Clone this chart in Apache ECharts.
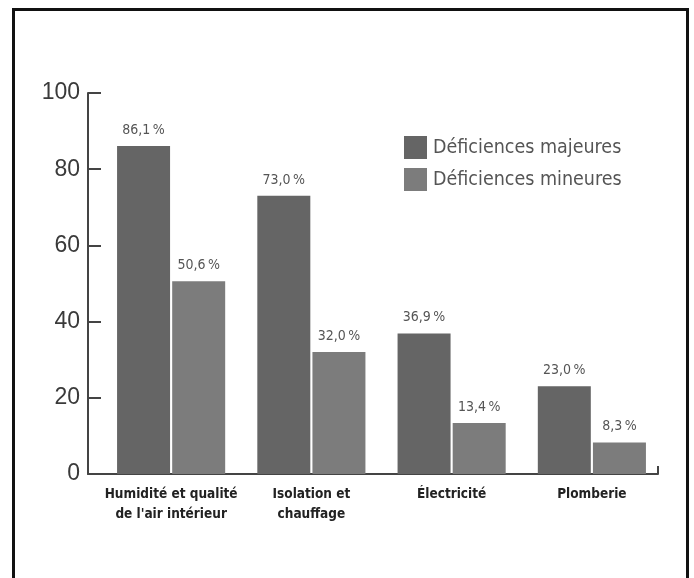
<!DOCTYPE html>
<html style="height: 100%">
<head>
    <meta charset="utf-8">
</head>
<body style="height: 100%; margin: 0; background: #fff">
<div id="container" style="width: 694px; height: 578px; position: absolute; left: 0; top: 0"></div>
<div style="position: absolute; left: 12px; top: 8px; width: 677px; height: 620px; border: 3px solid #111; box-sizing: border-box; pointer-events: none"></div>

<script type="text/javascript" src="https://cdn.jsdelivr.net/npm/echarts@6/dist/echarts.min.js"></script>
<script type="text/javascript">
    // données
    var categories = ["Humidité et qualité\nde l'air intérieur", "Isolation et\nchauffage", "Électricité", "Plomberie"];
    var majeures = [86.1, 73.0, 36.9, 23.0];
    var mineures = [50.6, 32.0, 13.4, 8.3];
    var yTicks = [0, 20, 40, 60, 80, 100];

    var narrow = '"Liberation Sans Narrow", "DejaVu Sans Condensed", sans-serif';

    var dom = document.getElementById("container");
    var myChart = echarts.init(dom);

    function pct(p) {
        return p.value.toFixed(1).replace('.', ',') + '\u2009%';
    }

    var option = {
        animation: false,
        legend: {
            orient: 'vertical',
            left: 399,
            top: 131,
            itemWidth: 23,
            itemHeight: 23,
            itemGap: 9,
            icon: 'rect',
            textStyle: {fontFamily: narrow, fontSize: 19.5, color: '#555', padding: [0, 0, 0, 1]},
            data: ['Déficiences majeures', 'Déficiences mineures']
        },
        grid: [
            {left: 101, right: 32, top: 93, bottom: 104},
            {left: 88, right: 36, top: 93, bottom: 104}
        ],
        xAxis: [{
            type: 'category',
            gridIndex: 0,
            data: categories,
            axisLine: {show: false},
            axisTick: {show: false},
            axisLabel: {
                interval: 0,
                hideOverlap: false,
                margin: 10,
                fontFamily: narrow,
                fontWeight: 'bold',
                fontSize: 13.5,
                lineHeight: 20,
                color: '#222'
            }
        }, {
            type: 'value',
            gridIndex: 1,
            min: 0,
            max: 1,
            interval: 1,
            splitLine: {show: false},
            axisLabel: {show: false},
            axisLine: {lineStyle: {color: '#444', width: 2}},
            axisTick: {inside: true, length: 8, lineStyle: {color: '#444', width: 2}}
        }],
        yAxis: [{
            type: 'value',
            gridIndex: 0,
            min: 0,
            max: 100,
            show: false
        }, {
            type: 'value',
            gridIndex: 1,
            min: yTicks[0],
            max: yTicks[yTicks.length - 1],
            interval: 20,
            splitLine: {show: false},
            axisLine: {show: true, lineStyle: {color: '#444', width: 2}},
            axisTick: {show: true, inside: true, length: 13, lineStyle: {color: '#444', width: 2}},
            axisLabel: {
                margin: 8,
                fontFamily: '"Liberation Sans", Arial, sans-serif',
                fontSize: 23,
                color: '#3a3a3a'
            }
        }],
        series: [{
            name: 'Déficiences majeures',
            type: 'bar',
            xAxisIndex: 0,
            yAxisIndex: 0,
            barWidth: 53,
            barGap: '4%',
            data: majeures,
            itemStyle: {color: '#656565'},
            label: {
                show: true,
                position: 'top',
                distance: 9,
                formatter: pct,
                fontFamily: narrow,
                fontSize: 14,
                color: '#555'
            }
        }, {
            name: 'Déficiences mineures',
            type: 'bar',
            xAxisIndex: 0,
            yAxisIndex: 0,
            barWidth: 53,
            barGap: '4%',
            data: mineures,
            itemStyle: {color: '#7c7c7c'},
            label: {
                show: true,
                position: 'top',
                distance: 9,
                formatter: pct,
                fontFamily: narrow,
                fontSize: 14,
                color: '#555'
            }
        }]
    };

    myChart.setOption(option);
</script>
</body>
</html>
